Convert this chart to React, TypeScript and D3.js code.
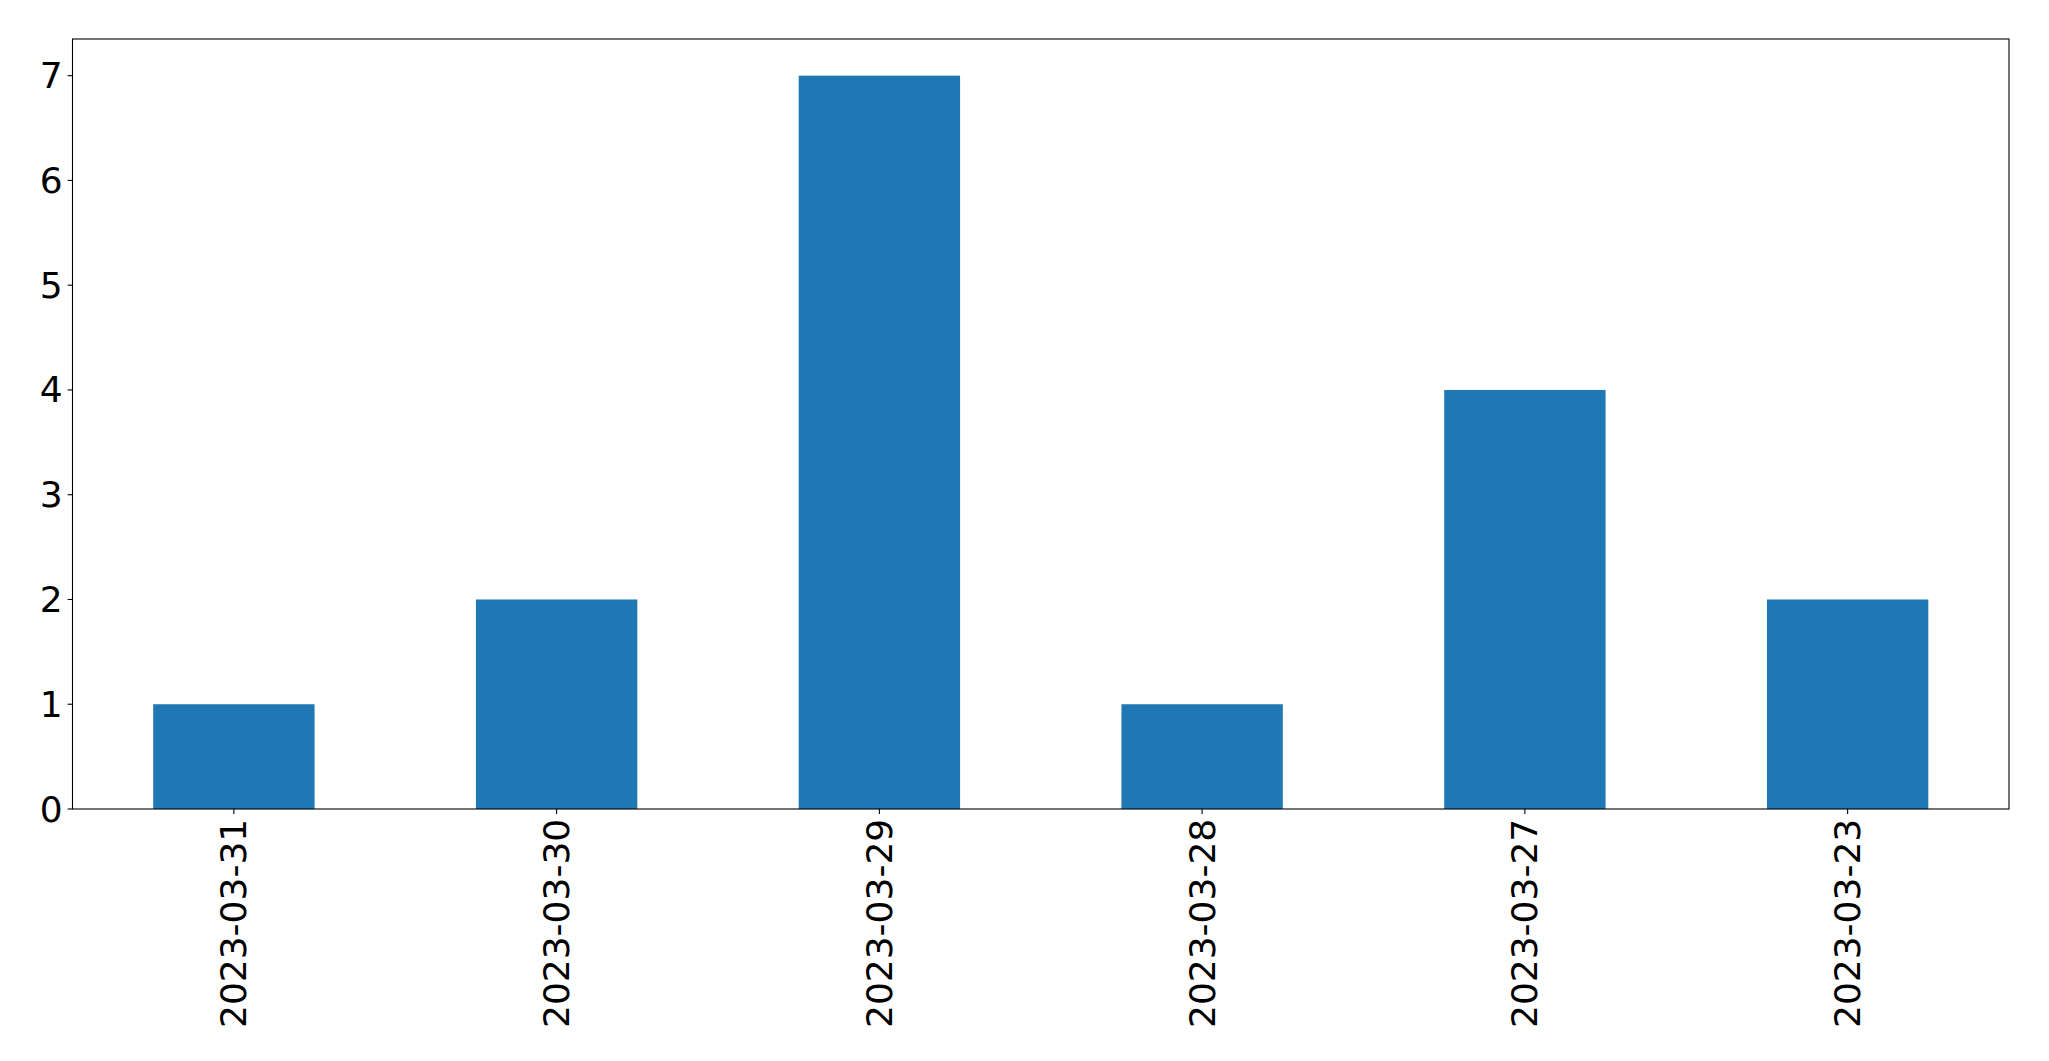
import React from "react";
import * as d3 from "d3";

const categories = ["2023-03-31", "2023-03-30", "2023-03-29", "2023-03-28", "2023-03-27", "2023-03-23"];
const values = [1, 2, 7, 1, 4, 2];
const yTicks = [0, 1, 2, 3, 4, 5, 6, 7];

const W = 2049;
const H = 1061;
const M = { left: 72.5, right: 2009, top: 39, bottom: 809 };
const FONT = "DejaVu Sans";
const FS = 36;

export default function App() {
  const x = d3.scaleBand<string>().domain(categories).range([M.left, M.right]).paddingInner(0.5).paddingOuter(0.25);
  const yMax = d3.max(values)! * 1.05;
  const y = d3.scaleLinear().domain([0, yMax]).range([M.bottom, M.top]);
  const tickLen = 4.9;
  const pad = 4.9;
  return (
    <svg width={W} height={H} style={{ position: "absolute", left: 0, top: 0, background: "#fff" }}>
      <rect x={0} y={0} width={W} height={H} fill="#fff" />
      {categories.map((c, i) => (
        <rect key={c} x={x(c)} y={y(values[i])} width={x.bandwidth()} height={y(0) - y(values[i])} fill="#1f77b4" />
      ))}
      <rect x={M.left} y={M.top} width={M.right - M.left} height={M.bottom - M.top} fill="none" stroke="#000" strokeWidth={1.1} />
      {yTicks.map((t) => (
        <g key={t}>
          <line x1={M.left - tickLen} x2={M.left} y1={y(t)} y2={y(t)} stroke="#000" strokeWidth={1.1} />
          <text x={M.left - tickLen - pad} y={y(t)} textAnchor="end" dominantBaseline="central" fontFamily={FONT} fontSize={FS} fill="#000">
            {t}
          </text>
        </g>
      ))}
      {categories.map((c) => {
        const cx = x(c)! + x.bandwidth() / 2;
        return (
          <g key={c}>
            <line x1={cx} x2={cx} y1={M.bottom} y2={M.bottom + tickLen} stroke="#000" strokeWidth={1.1} />
            <text
              transform={`translate(${cx},${M.bottom + tickLen + pad}) rotate(-90)`}
              textAnchor="end"
              dominantBaseline="central"
              fontFamily={FONT}
              fontSize={FS}
              fill="#000"
            >
              {c}
            </text>
          </g>
        );
      })}
    </svg>
  );
}
